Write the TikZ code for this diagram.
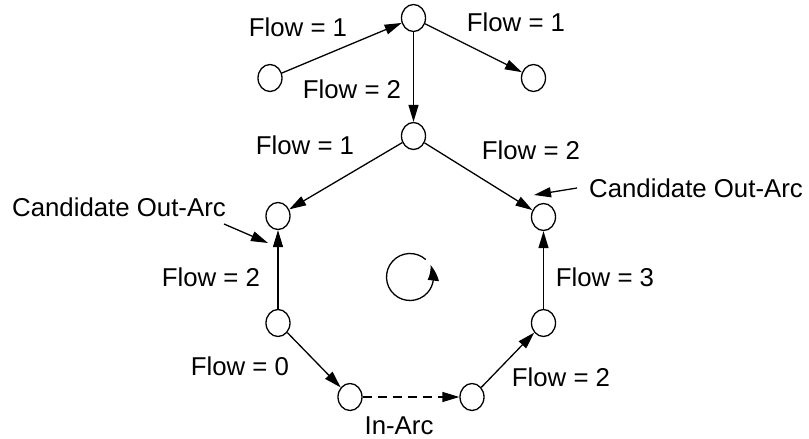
\documentclass[tikz,border=0pt]{standalone}
\usepackage{fontspec}
\setmainfont{Liberation Sans}
\usetikzlibrary{arrows.meta,shapes.geometric,bending}

\begin{document}
\begin{tikzpicture}[
  x=1pt, y=-1pt,
  vert/.style={ellipse, draw, line width=1.3pt, minimum width=24pt, minimum height=27pt, inner sep=0pt},
  lbl/.style={font=\fontsize{25.8}{30}\selectfont, inner sep=0pt},
  flowarc/.style={line width=1.3pt, -{Triangle[length=17pt,width=10pt]}}
]
\useasboundingbox (0,0) rectangle (809,439);

% Tree above the cycle
\node[vert] (root)  at (413.5, 18) {};
\node[vert] (lleaf) at (270, 78) {};
\node[vert] (rleaf) at (533.5, 78) {};
\node[vert] (mid)   at (413.5, 136) {};
\draw[flowarc] (lleaf) -- (root);
\draw[flowarc] (root) -- (rleaf);
\draw[flowarc] (root) -- (mid);
\node[lbl] (f1) at (298, 27) {Flow = 1};
\node[lbl] (f2) at (516, 22) {Flow = 1};
\node[lbl] (f3) at (352, 89) {Flow = 2};

% Cycle
\node[vert] (lup)  at (278, 216) {};
\node[vert] (rup)  at (543.5, 217) {};
\node[vert] (llow) at (278, 323) {};
\node[vert] (rlow) at (543.5, 323) {};
\node[vert] (bl)   at (350, 397) {};
\node[vert] (br)   at (472, 397) {};
\draw[flowarc] (mid) -- (lup);
\draw[flowarc] (mid) -- (rup);
\draw[flowarc] (llow) -- (lup);
\draw[flowarc] (rlow) -- (rup);
\draw[flowarc] (llow) -- (bl);
\draw[flowarc, dash pattern=on 9pt off 6pt] (bl) -- (br);
\draw[flowarc] (br) -- (rlow);
\node[lbl] (f4) at (305, 145) {Flow = 1};
\node[lbl] (f5) at (531, 150) {Flow = 2};
\node[lbl] (f6) at (211, 277) {Flow = 2};
\node[lbl] (f7) at (605, 277) {Flow = 3};
\node[lbl] (f8) at (240, 366) {Flow = 0};
\node[lbl] (f9) at (561, 377) {Flow = 2};
\node[lbl] (inarc) at (399, 426) {In-Arc};

% Candidate pointers
\node[lbl] (candl) at (119, 207) {Candidate Out-Arc};
\node[lbl] (candr) at (696, 188) {Candidate Out-Arc};
\coordinate (clfrom) at (224, 224);
\coordinate (clto)   at (268, 243);
\coordinate (crfrom) at (577, 188);
\coordinate (crto)   at (534, 195);
\draw[flowarc] (clfrom) -- (clto);
\draw[flowarc] (crfrom) -- (crto);

% Orientation of the cycle
\coordinate (rot) at (410, 277);
\draw[line width=1.3pt, -{Triangle[length=16pt,width=11pt,bend]}]
  ([shift={(48:23.5pt)}]rot) arc[start angle=48, end angle=390, radius=23.5pt];
\end{tikzpicture}
\end{document}
